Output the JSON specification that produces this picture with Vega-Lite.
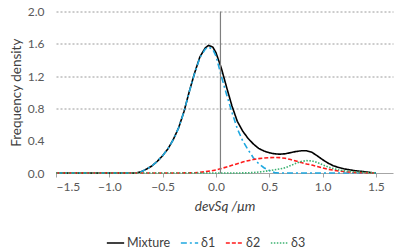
{
  "$schema": "https://vega.github.io/schema/vega-lite/v6.json",
  "autosize": {"type": "none"},
  "width": 337,
  "height": 161.5,
  "padding": {"left": 56, "top": 11.5, "right": 16, "bottom": 78},
  "background": "white",
  "config": {
    "font": "Lato",
    "view": {"stroke": null},
    "axis": {"labelColor": "#595959", "titleColor": "#404040", "labelFontSize": 12, "titleFontSize": 13.5, "titleFontWeight": "normal", "labelFont": "Lato", "titleFont": "Lato"}
  },
  "datasets": {
    "curves": [
      {"x": -1.5, "y": 0, "s": "Mixture"}, {"x": -1.0, "y": 0, "s": "Mixture"}, {"x": -0.75, "y": 0, "s": "Mixture"},
      {"x": -0.7, "y": 0.015, "s": "Mixture"}, {"x": -0.65, "y": 0.05, "s": "Mixture"}, {"x": -0.6, "y": 0.088, "s": "Mixture"},
      {"x": -0.55, "y": 0.145, "s": "Mixture"}, {"x": -0.5, "y": 0.215, "s": "Mixture"}, {"x": -0.45, "y": 0.3, "s": "Mixture"},
      {"x": -0.4, "y": 0.415, "s": "Mixture"}, {"x": -0.35, "y": 0.56, "s": "Mixture"}, {"x": -0.3, "y": 0.76, "s": "Mixture"},
      {"x": -0.25, "y": 1.01, "s": "Mixture"}, {"x": -0.2, "y": 1.24, "s": "Mixture"}, {"x": -0.15, "y": 1.44, "s": "Mixture"},
      {"x": -0.1, "y": 1.55, "s": "Mixture"}, {"x": -0.07, "y": 1.58, "s": "Mixture"}, {"x": -0.03, "y": 1.56, "s": "Mixture"}, {"x": 0.0, "y": 1.49, "s": "Mixture"},
      {"x": 0.05, "y": 1.3, "s": "Mixture"}, {"x": 0.1, "y": 1.06, "s": "Mixture"}, {"x": 0.15, "y": 0.83, "s": "Mixture"},
      {"x": 0.2, "y": 0.64, "s": "Mixture"}, {"x": 0.25, "y": 0.52, "s": "Mixture"}, {"x": 0.3, "y": 0.43, "s": "Mixture"},
      {"x": 0.35, "y": 0.36, "s": "Mixture"}, {"x": 0.4, "y": 0.305, "s": "Mixture"}, {"x": 0.45, "y": 0.272, "s": "Mixture"},
      {"x": 0.5, "y": 0.25, "s": "Mixture"}, {"x": 0.55, "y": 0.238, "s": "Mixture"}, {"x": 0.6, "y": 0.233, "s": "Mixture"},
      {"x": 0.65, "y": 0.238, "s": "Mixture"}, {"x": 0.7, "y": 0.252, "s": "Mixture"}, {"x": 0.75, "y": 0.266, "s": "Mixture"},
      {"x": 0.8, "y": 0.275, "s": "Mixture"}, {"x": 0.85, "y": 0.275, "s": "Mixture"}, {"x": 0.9, "y": 0.256, "s": "Mixture"},
      {"x": 0.95, "y": 0.212, "s": "Mixture"}, {"x": 1.0, "y": 0.165, "s": "Mixture"}, {"x": 1.05, "y": 0.123, "s": "Mixture"},
      {"x": 1.1, "y": 0.09, "s": "Mixture"}, {"x": 1.15, "y": 0.068, "s": "Mixture"}, {"x": 1.2, "y": 0.052, "s": "Mixture"},
      {"x": 1.25, "y": 0.04, "s": "Mixture"}, {"x": 1.3, "y": 0.03, "s": "Mixture"}, {"x": 1.35, "y": 0.022, "s": "Mixture"},
      {"x": 1.4, "y": 0.014, "s": "Mixture"}, {"x": 1.45, "y": 0.006, "s": "Mixture"}, {"x": 1.5, "y": 0, "s": "Mixture"},

      {"x": -1.5, "y": 0, "s": "δ1"}, {"x": -1.0, "y": 0, "s": "δ1"}, {"x": -0.75, "y": 0, "s": "δ1"},
      {"x": -0.7, "y": 0.015, "s": "δ1"}, {"x": -0.65, "y": 0.05, "s": "δ1"}, {"x": -0.6, "y": 0.088, "s": "δ1"},
      {"x": -0.55, "y": 0.145, "s": "δ1"}, {"x": -0.5, "y": 0.215, "s": "δ1"}, {"x": -0.45, "y": 0.3, "s": "δ1"},
      {"x": -0.4, "y": 0.414, "s": "δ1"}, {"x": -0.35, "y": 0.559, "s": "δ1"}, {"x": -0.3, "y": 0.758, "s": "δ1"},
      {"x": -0.25, "y": 1.007, "s": "δ1"}, {"x": -0.2, "y": 1.235, "s": "δ1"}, {"x": -0.15, "y": 1.43, "s": "δ1"},
      {"x": -0.1, "y": 1.535, "s": "δ1"}, {"x": -0.07, "y": 1.56, "s": "δ1"}, {"x": -0.03, "y": 1.53, "s": "δ1"}, {"x": 0.0, "y": 1.45, "s": "δ1"},
      {"x": 0.05, "y": 1.2, "s": "δ1"}, {"x": 0.1, "y": 0.97, "s": "δ1"}, {"x": 0.15, "y": 0.75, "s": "δ1"},
      {"x": 0.2, "y": 0.55, "s": "δ1"}, {"x": 0.25, "y": 0.4, "s": "δ1"}, {"x": 0.3, "y": 0.29, "s": "δ1"},
      {"x": 0.35, "y": 0.19, "s": "δ1"}, {"x": 0.4, "y": 0.115, "s": "δ1"}, {"x": 0.45, "y": 0.065, "s": "δ1"},
      {"x": 0.5, "y": 0.03, "s": "δ1"}, {"x": 0.55, "y": 0.005, "s": "δ1"}, {"x": 0.6, "y": 0, "s": "δ1"},
      {"x": 1.0, "y": 0, "s": "δ1"}, {"x": 1.5, "y": 0, "s": "δ1"},

      {"x": -1.5, "y": 0, "s": "δ2"}, {"x": -1.0, "y": 0, "s": "δ2"}, {"x": -0.5, "y": 0, "s": "δ2"},
      {"x": -0.3, "y": 0.001, "s": "δ2"}, {"x": -0.2, "y": 0.004, "s": "δ2"}, {"x": -0.15, "y": 0.009, "s": "δ2"},
      {"x": -0.1, "y": 0.016, "s": "δ2"}, {"x": -0.05, "y": 0.026, "s": "δ2"}, {"x": 0.0, "y": 0.038, "s": "δ2"},
      {"x": 0.05, "y": 0.055, "s": "δ2"}, {"x": 0.1, "y": 0.075, "s": "δ2"}, {"x": 0.15, "y": 0.095, "s": "δ2"},
      {"x": 0.2, "y": 0.115, "s": "δ2"}, {"x": 0.25, "y": 0.135, "s": "δ2"}, {"x": 0.3, "y": 0.152, "s": "δ2"},
      {"x": 0.35, "y": 0.167, "s": "δ2"}, {"x": 0.4, "y": 0.178, "s": "δ2"}, {"x": 0.45, "y": 0.186, "s": "δ2"},
      {"x": 0.5, "y": 0.19, "s": "δ2"}, {"x": 0.55, "y": 0.192, "s": "δ2"}, {"x": 0.6, "y": 0.19, "s": "δ2"},
      {"x": 0.65, "y": 0.182, "s": "δ2"}, {"x": 0.7, "y": 0.166, "s": "δ2"}, {"x": 0.75, "y": 0.148, "s": "δ2"},
      {"x": 0.8, "y": 0.129, "s": "δ2"}, {"x": 0.85, "y": 0.112, "s": "δ2"}, {"x": 0.9, "y": 0.098, "s": "δ2"},
      {"x": 0.95, "y": 0.08, "s": "δ2"}, {"x": 1.0, "y": 0.062, "s": "δ2"}, {"x": 1.05, "y": 0.047, "s": "δ2"},
      {"x": 1.1, "y": 0.035, "s": "δ2"}, {"x": 1.15, "y": 0.025, "s": "δ2"}, {"x": 1.2, "y": 0.018, "s": "δ2"},
      {"x": 1.25, "y": 0.012, "s": "δ2"}, {"x": 1.3, "y": 0.008, "s": "δ2"}, {"x": 1.35, "y": 0.005, "s": "δ2"},
      {"x": 1.4, "y": 0.003, "s": "δ2"}, {"x": 1.45, "y": 0.001, "s": "δ2"}, {"x": 1.5, "y": 0, "s": "δ2"},

      {"x": -1.5, "y": 0, "s": "δ3"}, {"x": -1.0, "y": 0, "s": "δ3"}, {"x": -0.5, "y": 0, "s": "δ3"},
      {"x": 0.0, "y": 0, "s": "δ3"}, {"x": 0.25, "y": 0.001, "s": "δ3"}, {"x": 0.3, "y": 0.003, "s": "δ3"},
      {"x": 0.35, "y": 0.006, "s": "δ3"}, {"x": 0.4, "y": 0.012, "s": "δ3"}, {"x": 0.45, "y": 0.02, "s": "δ3"},
      {"x": 0.5, "y": 0.03, "s": "δ3"}, {"x": 0.55, "y": 0.04, "s": "δ3"}, {"x": 0.6, "y": 0.05, "s": "δ3"},
      {"x": 0.65, "y": 0.065, "s": "δ3"}, {"x": 0.7, "y": 0.092, "s": "δ3"}, {"x": 0.75, "y": 0.12, "s": "δ3"},
      {"x": 0.8, "y": 0.143, "s": "δ3"}, {"x": 0.85, "y": 0.153, "s": "δ3"}, {"x": 0.9, "y": 0.15, "s": "δ3"},
      {"x": 0.95, "y": 0.13, "s": "δ3"}, {"x": 1.0, "y": 0.102, "s": "δ3"}, {"x": 1.05, "y": 0.076, "s": "δ3"},
      {"x": 1.1, "y": 0.055, "s": "δ3"}, {"x": 1.15, "y": 0.038, "s": "δ3"}, {"x": 1.2, "y": 0.028, "s": "δ3"},
      {"x": 1.25, "y": 0.02, "s": "δ3"}, {"x": 1.3, "y": 0.015, "s": "δ3"}, {"x": 1.35, "y": 0.011, "s": "δ3"},
      {"x": 1.4, "y": 0.007, "s": "δ3"}, {"x": 1.45, "y": 0.003, "s": "δ3"}, {"x": 1.5, "y": 0, "s": "δ3"}
    ]
  },
  "layer": [
    {
      "data": {"name": "curves"},
      "mark": {"type": "line", "strokeWidth": 1.6, "clip": false},
      "encoding": {
        "x": {
          "field": "x", "type": "quantitative",
          "scale": {"domain": [-1.5, 1.66], "nice": false, "zero": false},
          "axis": {
            "values": [-1.5, -1.0, -0.5, 0.0, 0.5, 1.0, 1.5],
            "tickCount": 10,
            "format": ".1f",
            "grid": false,
            "labelOverlap": false,
            "domainColor": "#a6a6a6",
            "tickColor": "#a6a6a6",
            "tickSize": 4,
            "labelPadding": 4,
            "title": "devSq /μm",
            "titleFontStyle": "italic",
            "titlePadding": 7
          }
        },
        "y": {
          "field": "y", "type": "quantitative",
          "scale": {"domain": [0, 2], "nice": false},
          "axis": {
            "values": [0, 0.4, 0.8, 1.2, 1.6, 2],
            "tickCount": 10,
            "format": ".1f",
            "labelOverlap": false,
            "domain": false,
            "ticks": false,
            "labelPadding": 12,
            "grid": true,
            "gridColor": "#808080",
            "gridDash": [2, 2],
            "gridWidth": 0.8,
            "gridOpacity": {"condition": {"test": "datum.value < 0.5", "value": 0}, "value": 1},
            "title": "Frequency density",
            "titlePadding": 4
          }
        },
        "color": {
          "field": "s", "type": "nominal",
          "scale": {"domain": ["Mixture", "δ1", "δ2", "δ3"], "range": ["#000000", "#1fa8e0", "#ff1a1a", "#3cb371"]},
          "legend": {
            "title": null,
            "orient": "none",
            "legendX": 50,
            "legendY": 222,
            "direction": "horizontal",
            "symbolType": "stroke",
            "symbolSize": 300,
            "symbolStrokeWidth": 1.6,
            "labelFontSize": 12.5,
            "labelColor": "#404040",
            "labelOffset": 2,
            "columnPadding": 6
          }
        },
        "strokeDash": {
          "field": "s", "type": "nominal",
          "scale": {"domain": ["Mixture", "δ1", "δ2", "δ3"], "range": [[1, 0], [6, 3, 2, 3], [4, 2], [1.5, 1.5]]},
          "legend": null
        },
        "order": {"field": "x", "type": "quantitative"}
      }
    },
    {
      "data": {"values": [{}]},
      "mark": {"type": "rule", "color": "#7f7f7f", "strokeWidth": 1.2},
      "encoding": {
        "x": {"datum": 0.042, "type": "quantitative"},
        "y": {"datum": 0, "type": "quantitative"},
        "y2": {"datum": 2}
      }
    }
  ]
}
